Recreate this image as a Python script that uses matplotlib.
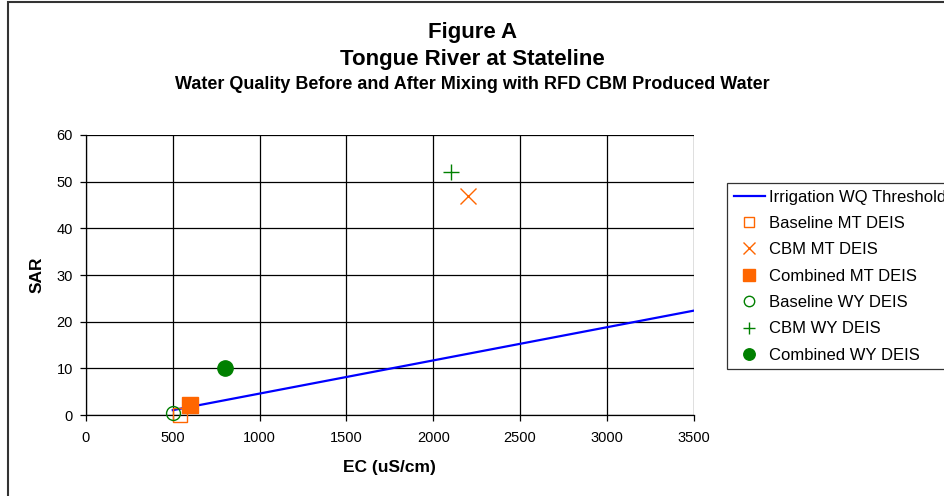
import matplotlib
matplotlib.use("Agg")
import matplotlib.pyplot as plt
from matplotlib.patches import Rectangle

plt.rcParams["font.family"] = ["Liberation Sans", "DejaVu Sans"]

# Irrigation water quality threshold (SAR vs EC)
threshold_ec = [500, 3500]
threshold_sar = [1.07, 22.37]

# (EC, SAR) for each scenario
baseline_mt = ([540], [0.0])
cbm_mt = ([2200], [47.0])
combined_mt = ([600], [2.2])
baseline_wy = ([500], [0.5])
cbm_wy = ([2100], [52.0])
combined_wy = ([800], [10.0])

x_ticks = [0, 500, 1000, 1500, 2000, 2500, 3000, 3500]
y_ticks = [0, 10, 20, 30, 40, 50, 60]

ORANGE = "#FF6600"
GREEN = "#008000"
BLUE = "#0000FF"

fig = plt.figure(figsize=(9.45, 4.96), dpi=100)
ax = fig.add_axes([0.091, 0.163, 0.643, 0.565])

ax.plot(threshold_ec, threshold_sar, color=BLUE, lw=1.6,
        label="Irrigation WQ Threshold", zorder=3)
ax.plot(*baseline_mt, ls="none", marker="s", ms=10, mfc="none",
        mec=ORANGE, mew=1.0, label="Baseline MT DEIS", zorder=4,
        clip_on=False)
ax.plot(*cbm_mt, ls="none", marker="x", ms=12, color=ORANGE,
        mew=1.0, label="CBM MT DEIS", zorder=4)
ax.plot(*combined_mt, ls="none", marker="s", ms=11, color=ORANGE,
        label="Combined MT DEIS", zorder=4, clip_on=False)
ax.plot(*baseline_wy, ls="none", marker="o", ms=10, mfc="none",
        mec=GREEN, mew=1.0, label="Baseline WY DEIS", zorder=5,
        clip_on=False)
ax.plot(*cbm_wy, ls="none", marker="+", ms=12, color=GREEN,
        mew=1.0, label="CBM WY DEIS", zorder=4)
ax.plot(*combined_wy, ls="none", marker="o", ms=11, color=GREEN,
        label="Combined WY DEIS", zorder=4)

ax.set_xlim(0, 3500)
ax.set_ylim(0, 60)
ax.set_xticks(x_ticks)
ax.set_yticks(y_ticks)
ax.grid(True, color="black", lw=0.9)
ax.set_axisbelow(True)
for s in ax.spines.values():
    s.set_color("black")
    s.set_linewidth(0.9)
ax.spines["top"].set_visible(False)
ax.spines["right"].set_visible(False)
ax.tick_params(direction="out", length=4.3, width=0.9, labelsize=10.5)
ax.tick_params(axis="x", pad=6.8)
ax.tick_params(axis="y", pad=5)

ax.set_xlabel("EC (uS/cm)", fontsize=12.5, fontweight="bold", labelpad=11)
ax.set_ylabel("SAR", fontsize=12.5, fontweight="bold", labelpad=9)

fig.text(0.5, 1 - 38 / 496, "Figure A", ha="center", va="baseline",
         fontsize=16, fontweight="bold")
fig.text(0.5, 1 - 65 / 496, "Tongue River at Stateline", ha="center",
         va="baseline", fontsize=16, fontweight="bold")
fig.text(0.5, 1 - 89 / 496,
         "Water Quality Before and After Mixing with RFD CBM Produced Water",
         ha="center", va="baseline", fontsize=13, fontweight="bold")

leg = fig.legend(loc="upper left", bbox_to_anchor=(727 / 945, 1 - 183 / 496),
                 fontsize=12, frameon=True, fancybox=False,
                 edgecolor="black", borderpad=0.4, labelspacing=0.68,
                 handlelength=1.9, handletextpad=0.2, borderaxespad=0,
                 markerscale=0.75)
leg.get_frame().set_linewidth(0.9)

# outer frame around the chart (runs past the right and bottom edges)
fig.patches.append(Rectangle((8 / 945, -0.05), 1.0, 1.05 - 2 / 496,
                             transform=fig.transFigure, fill=False,
                             edgecolor="#333333", lw=1.5))

fig.savefig("out.png", dpi=100)
